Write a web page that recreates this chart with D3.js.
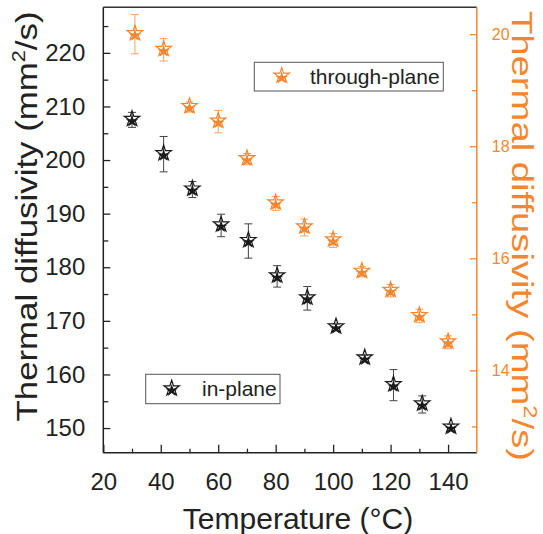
<!DOCTYPE html>
<html>
<head>
<meta charset="utf-8">
<script src="https://cdn.jsdelivr.net/npm/d3@7"></script>
<style>
  html, body { margin: 0; padding: 0; background: #fff; }
  svg text { font-family: "Liberation Sans", Arial, sans-serif; }
</style>
</head>
<body>
<svg id="chart" width="543" height="534"></svg>
<script>
// ---- data ----
const tempIn = [30, 41, 51, 61, 70.5, 80.5, 91, 101, 111, 121, 131, 141];
const diffIn = [207.5, 201.1, 194.5, 187.8, 184.9, 178.3, 174.2, 168.8, 163.0, 158.0, 154.4, 150.1];
const errIn = [1.4, 3.3, 1.5, 2.1, 3.2, 2.0, 2.2, 0.6, 0.6, 2.9, 1.6, 0.6];

const tempThrough = [31, 41, 50, 60, 70, 80, 90, 100, 110, 120, 130, 140];
const diffThrough = [20.0, 19.72, 18.70, 18.44, 17.77, 16.98, 16.55, 16.32, 15.76, 15.42, 14.97, 14.50];
const errThrough = [0.35, 0.2, 0.09, 0.2, 0.1, 0.125, 0.15, 0.125, 0.09, 0.11, 0.12, 0.115];

const xMajor = [20, 40, 60, 80, 100, 120, 140];
const xMinor = [30, 50, 70, 90, 110, 130];
const yLeftMajor = [150, 160, 170, 180, 190, 200, 210, 220];
const yLeftMinor = [155, 165, 175, 185, 195, 205, 215, 225];
const yRightMajor = [14, 16, 18, 20];
const yRightMinor = [13, 15, 17, 19];

const seriesNames = ["in-plane", "through-plane"];

// ---- layout ----
const ORANGE = "#f5862e";
const DARK = "#222";
const L = 103.3, R = 476.8, T = 7.3, B = 452.7;

const svg = d3.select("#chart");

const x = d3.scaleLinear().domain([20, 150]).range([L, R]);
const yL = d3.scaleLinear().domain([145.4, 228.5]).range([B, T]);
const yR = d3.scaleLinear().domain([12.53, 20.48]).range([B, T]);

const fmt = d3.format("d");
function styleAxis(g, color) {
  g.select(".domain").remove();
  g.selectAll(".tick line").attr("stroke", color).attr("stroke-width", 1.3);
}

// x axis bottom
const gx = svg.append("g").attr("transform", `translate(0,${B})`)
  .call(d3.axisBottom(x).tickValues(xMajor).tickFormat(fmt).tickSizeInner(-8).tickPadding(20));
styleAxis(gx, DARK);
gx.selectAll(".tick text").attr("font-size", 24).attr("fill", DARK).attr("dy", "0.71em");
const gxm = svg.append("g").attr("transform", `translate(0,${B})`)
  .call(d3.axisBottom(x).tickValues(xMinor).tickFormat("").tickSizeInner(-4));
styleAxis(gxm, DARK);

// left axis
const gy = svg.append("g").attr("transform", `translate(${L},0)`)
  .call(d3.axisLeft(yL).tickValues(yLeftMajor).tickFormat(fmt).tickSizeInner(-7).tickPadding(18));
styleAxis(gy, DARK);
gy.selectAll(".tick text").attr("font-size", 24).attr("fill", DARK);
const gym = svg.append("g").attr("transform", `translate(${L},0)`)
  .call(d3.axisLeft(yL).tickValues(yLeftMinor).tickFormat("").tickSizeInner(-5));
styleAxis(gym, DARK);

// right axis
const gr = svg.append("g").attr("transform", `translate(${R},0)`)
  .call(d3.axisRight(yR).tickValues(yRightMajor).tickFormat(fmt).tickSizeInner(-7).tickPadding(15));
styleAxis(gr, ORANGE);
gr.selectAll(".tick text").attr("font-size", 16).attr("fill", ORANGE);
const grm = svg.append("g").attr("transform", `translate(${R},0)`)
  .call(d3.axisRight(yR).tickValues(yRightMinor).tickFormat("").tickSizeInner(-5));
styleAxis(grm, ORANGE);

// frame
svg.append("line").attr("x1", L).attr("x2", R).attr("y1", T).attr("y2", T).attr("stroke", "#333").attr("stroke-width", 1.5);
svg.append("line").attr("x1", L).attr("x2", L).attr("y1", T).attr("y2", B).attr("stroke", DARK).attr("stroke-width", 1.5);
svg.append("line").attr("x1", L).attr("x2", R).attr("y1", B).attr("y2", B).attr("stroke", DARK).attr("stroke-width", 1.5);
svg.append("line").attr("x1", R).attr("x2", R).attr("y1", T).attr("y2", B).attr("stroke", ORANGE).attr("stroke-width", 1.5);

// series
const inData = tempIn.map((t, i) => ({ t, v: diffIn[i], e: errIn[i] }));
const thData = tempThrough.map((t, i) => ({ t, v: diffThrough[i], e: errThrough[i] }));

const starOuter = d3.symbol().type(d3.symbolStar).size(74);
const starInner = d3.symbol().type(d3.symbolStar).size(48);

function drawStar(sel, color) {
  sel.append("path").attr("d", starOuter()).attr("fill", "none")
    .attr("stroke", color).attr("stroke-width", 1.2).attr("transform", "translate(0,-1)");
  sel.append("path").attr("d", starInner()).attr("fill", color)
    .attr("transform", "translate(0,1.3)");
}

function drawSeries(data, ys, color, barColor) {
  const g = svg.append("g");
  const eb = g.selectAll(".eb").data(data).enter().append("g");
  eb.append("line")
    .attr("x1", d => x(d.t)).attr("x2", d => x(d.t))
    .attr("y1", d => ys(d.v + d.e)).attr("y2", d => ys(d.v - d.e))
    .attr("stroke", barColor).attr("stroke-width", 1);
  eb.append("line")
    .attr("x1", d => x(d.t) - 4).attr("x2", d => x(d.t) + 4)
    .attr("y1", d => ys(d.v + d.e)).attr("y2", d => ys(d.v + d.e))
    .attr("stroke", barColor).attr("stroke-width", 1);
  eb.append("line")
    .attr("x1", d => x(d.t) - 4).attr("x2", d => x(d.t) + 4)
    .attr("y1", d => ys(d.v - d.e)).attr("y2", d => ys(d.v - d.e))
    .attr("stroke", barColor).attr("stroke-width", 1);
  const st = g.selectAll(".st").data(data).enter().append("g")
    .attr("transform", d => `translate(${x(d.t)},${ys(d.v)})`);
  drawStar(st, color);
}

drawSeries(thData, yR, ORANGE, "#f7a064");
drawSeries(inData, yL, "#1a1a1a", "#444");

// legends
function legend(x0, y0, w, h, sx, sy, tx, ty, label, color) {
  const g = svg.append("g");
  g.append("rect").attr("x", x0).attr("y", y0).attr("width", w).attr("height", h)
    .attr("fill", "#fff").attr("stroke", "#555").attr("stroke-width", 1);
  const s = g.append("g").attr("transform", `translate(${sx},${sy})`);
  drawStar(s, color);
  g.append("text").attr("x", tx).attr("y", ty).attr("font-size", 21).attr("fill", DARK).text(label);
}
legend(254.3, 62.3, 189, 28.7, 281.7, 76.7, 310, 84.3, seriesNames[1], ORANGE);
legend(145.7, 374.3, 134.3, 29.4, 171.7, 389.3, 202, 395.7, seriesNames[0], "#1a1a1a");

// axis titles
svg.append("text").attr("x", (L + R) / 2 + 8).attr("y", 529).attr("text-anchor", "middle")
  .attr("font-size", 30).attr("fill", DARK).text("Temperature (°C)");

function yTitle(cx, cy, rot, color, len) {
  const t = svg.append("text")
    .attr("transform", `translate(${cx},${cy}) rotate(${rot})`)
    .attr("text-anchor", "middle").attr("font-size", 29).attr("fill", color)
    .attr("textLength", len).attr("lengthAdjust", "spacingAndGlyphs");
  t.append("tspan").text("Thermal diffusivity (mm");
  t.append("tspan").attr("font-size", 18).attr("dy", -12).text("2");
  t.append("tspan").attr("dy", 12).text("/s)");
}
yTitle(37, 216.5, -90, DARK, 410);
yTitle(512, 236, 90, ORANGE, 450);
</script>
</body>
</html>
